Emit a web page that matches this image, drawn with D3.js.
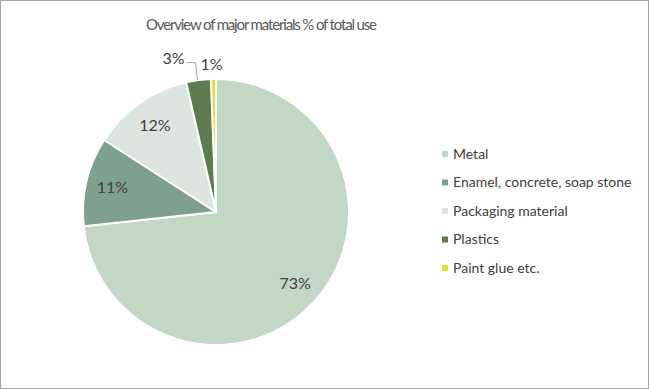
<!DOCTYPE html>
<html>
<head>
<meta charset="utf-8">
<script src="https://cdn.jsdelivr.net/npm/d3@7"></script>
<style>
  html, body { margin: 0; padding: 0; background: #fff; }
  svg { display: block; font-family: "Source Sans Pro", Lato, "Open Sans", sans-serif; }
</style>
</head>
<body>
<div id="chart"></div>
<script>
// Materialer - andel av total bruk
const materials = ["Metal", "Enamel, concrete, soap stone", "Packaging material", "Plastics", "Paint glue etc."];
const shares = [73.3, 10.8, 12.3, 3.0, 0.6];
const colors = ["#c2d7c4", "#7f9f8f", "#dae6df", "#5e7b4f", "#e1e12a"];

const width = 649, height = 389;
const cx = 216, cy = 212, radius = 133;

const svg = d3.select("#chart").append("svg")
    .attr("width", width)
    .attr("height", height);

// ramme
svg.append("rect")
    .attr("x", 0.5).attr("y", 0.5)
    .attr("width", width - 1).attr("height", height - 1)
    .attr("fill", "#fff")
    .attr("stroke", "#a6a6a6");

svg.append("text")
    .attr("x", 146).attr("y", 30)
    .attr("textLength", 231)
    .attr("lengthAdjust", "spacing")
    .attr("fill", "#595959")
    .style("font-size", "15px")
    .text("Overview of major materials % of total use");

const data = materials.map((m, i) => ({ name: m, value: shares[i], color: colors[i] }));

const pie = d3.pie().sort(null).value(d => d.value);
const arcs = pie(data);

const arc = d3.arc().innerRadius(0).outerRadius(radius);
const labelArc = d3.arc().innerRadius(radius * 0.8).outerRadius(radius * 0.8);

const g = svg.append("g").attr("transform", `translate(${cx},${cy})`);

g.selectAll("path.slice")
    .data(arcs)
    .enter()
    .append("path")
    .attr("class", "slice")
    .attr("d", arc)
    .attr("fill", d => d.data.color)
    .attr("stroke", "#fff")
    .attr("stroke-width", 2)
    .attr("stroke-linejoin", "round");

// etiketter inne i sektorene (store verdier)
const fmt = d => Math.round(d.data.value) + "%";
const inside = arcs.filter(d => d.data.value >= 5);
g.selectAll("text.inside")
    .data(inside)
    .enter()
    .append("text")
    .attr("class", "inside")
    .attr("transform", d => `translate(${labelArc.centroid(d)})`)
    .attr("text-anchor", "middle")
    .attr("dy", "0.35em")
    .attr("fill", "#404040")
    .style("font-size", "16px")
    .text(fmt);

// små sektorer: etikett utenfor
const outside = arcs.filter(d => d.data.value < 5);
const outerArc = d3.arc().innerRadius(radius).outerRadius(radius);
outside.forEach((d, i) => {
    const [ex, ey] = outerArc.centroid(d);
    if (i === 0) {
        // leder-linje for plastics
        const lx = ex - 1, ly = ey - 0.5;
        g.append("polyline")
            .attr("points", [[lx, ly], [lx - 2, ly - 17], [lx - 11, ly - 17]].map(p => p.join(",")).join(" "))
            .attr("fill", "none")
            .attr("stroke", "#a6a6a6")
            .attr("stroke-width", 1);
        g.append("text")
            .attr("x", lx - 35).attr("y", ly - 21)
            .attr("dy", "0.35em")
            .attr("fill", "#404040")
            .style("font-size", "16px")
            .text(fmt(d));
    } else {
        g.append("text")
            .attr("x", ex - 2).attr("y", ey - 15)
            .attr("text-anchor", "middle")
            .attr("dy", "0.35em")
            .attr("fill", "#404040")
            .style("font-size", "16px")
            .text(fmt(d));
    }
});

// legende
const legendY = d3.scalePoint()
    .domain(materials)
    .range([154, 268]);

const legend = svg.append("g");
const items = legend.selectAll("g.item")
    .data(data)
    .enter()
    .append("g")
    .attr("class", "item")
    .attr("transform", d => `translate(442,${legendY(d.name)})`);

items.append("rect")
    .attr("x", 0).attr("y", -3)
    .attr("width", 6).attr("height", 6)
    .attr("fill", d => d.color);

items.append("text")
    .attr("x", 11)
    .attr("dy", "0.35em")
    .attr("fill", "#404040")
    .style("font-size", "14px")
    .text(d => d.name);
</script>
</body>
</html>
